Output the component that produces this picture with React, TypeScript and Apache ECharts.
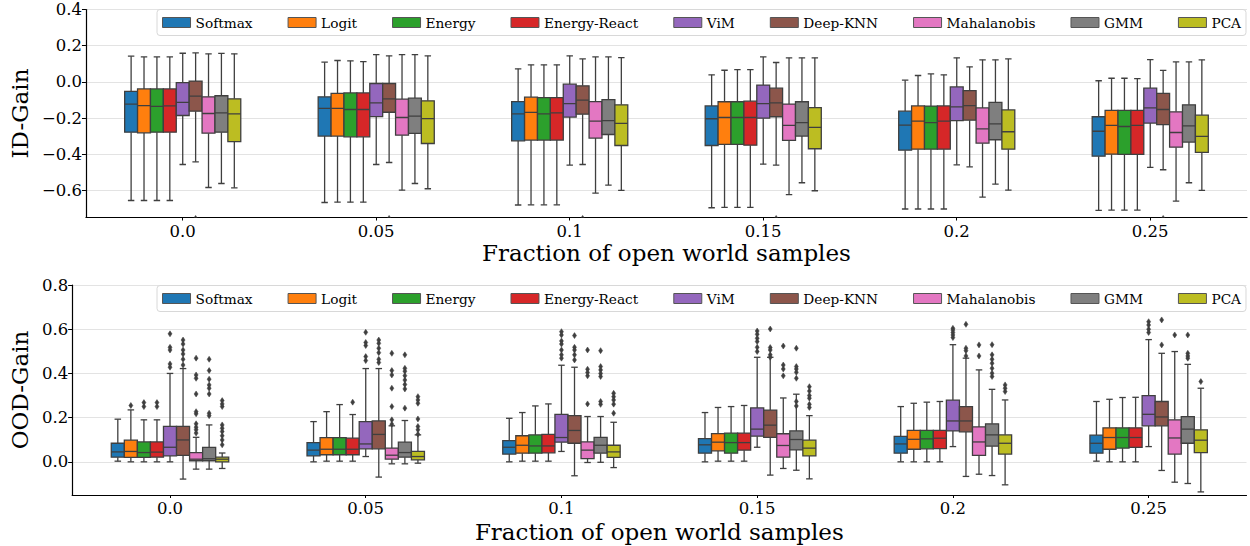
import React, { useEffect, useRef } from "react";
import * as echarts from "echarts";

const CATEGORIES = ["0.0", "0.05", "0.1", "0.15", "0.2", "0.25"];
const METHODS = ["Softmax", "Logit", "Energy", "Energy-React", "ViM", "Deep-KNN", "Mahalanobis", "GMM", "PCA"];
const COLORS = ["#1f77b4", "#ff7f0e", "#2ca02c", "#d62728", "#9467bd", "#8c564b", "#e377c2", "#7f7f7f", "#bcbd22"];

// ID-Gain: per method, per fraction: [low whisker, q1, median, q3, high whisker]
const ID_SOFTMAX = [[-0.656, -0.278, -0.123, -0.053, 0.142], [-0.667, -0.300, -0.147, -0.083, 0.109], [-0.681, -0.326, -0.177, -0.109, 0.072], [-0.696, -0.352, -0.204, -0.133, 0.039], [-0.703, -0.378, -0.239, -0.162, 0.009], [-0.711, -0.411, -0.273, -0.193, 0.006]];
const ID_LOGIT = [[-0.656, -0.282, -0.131, -0.039, 0.138], [-0.665, -0.300, -0.147, -0.064, 0.118], [-0.680, -0.322, -0.169, -0.085, 0.094], [-0.694, -0.346, -0.197, -0.110, 0.064], [-0.703, -0.372, -0.217, -0.133, 0.035], [-0.709, -0.400, -0.241, -0.158, 0.020]];
const ID_ENERGY = [[-0.656, -0.278, -0.136, -0.039, 0.138], [-0.665, -0.304, -0.153, -0.061, 0.116], [-0.680, -0.322, -0.177, -0.087, 0.094], [-0.694, -0.346, -0.197, -0.110, 0.068], [-0.703, -0.372, -0.225, -0.134, 0.044], [-0.709, -0.401, -0.247, -0.158, 0.020]];
const ID_ENERGY_REACT = [[-0.656, -0.278, -0.133, -0.039, 0.138], [-0.665, -0.304, -0.153, -0.061, 0.112], [-0.680, -0.322, -0.171, -0.087, 0.094], [-0.694, -0.350, -0.197, -0.107, 0.068], [-0.703, -0.372, -0.217, -0.133, 0.039], [-0.709, -0.401, -0.241, -0.158, 0.018]];
const ID_VIM = [[-0.457, -0.186, -0.114, -0.004, 0.158], [-0.457, -0.192, -0.116, -0.009, 0.151], [-0.460, -0.195, -0.120, -0.013, 0.144], [-0.455, -0.201, -0.120, -0.018, 0.138], [-0.459, -0.214, -0.138, -0.028, 0.133], [-0.473, -0.228, -0.144, -0.035, 0.123]];
const ID_DEEP_KNN = [[-0.442, -0.162, -0.079, 0.004, 0.160], [-0.446, -0.168, -0.094, -0.009, 0.144], [-0.457, -0.179, -0.101, -0.022, 0.127], [-0.460, -0.193, -0.116, -0.035, 0.107], [-0.470, -0.212, -0.131, -0.048, 0.083], [-0.486, -0.236, -0.153, -0.064, 0.063]];
const ID_MAHALANOBIS = [[-0.584, -0.284, -0.175, -0.083, 0.155], [-0.599, -0.295, -0.197, -0.096, 0.151], [-0.615, -0.311, -0.217, -0.109, 0.138], [-0.624, -0.324, -0.241, -0.123, 0.133], [-0.637, -0.339, -0.260, -0.144, 0.122], [-0.659, -0.361, -0.280, -0.166, 0.110]];
const ID_GMM = [[-0.562, -0.278, -0.171, -0.077, 0.157], [-0.562, -0.285, -0.190, -0.090, 0.151], [-0.571, -0.291, -0.214, -0.098, 0.138], [-0.558, -0.300, -0.225, -0.110, 0.133], [-0.565, -0.320, -0.232, -0.114, 0.122], [-0.558, -0.333, -0.243, -0.127, 0.110]];
const ID_PCA = [[-0.586, -0.330, -0.177, -0.094, 0.155], [-0.591, -0.341, -0.203, -0.105, 0.144], [-0.600, -0.352, -0.230, -0.127, 0.134], [-0.602, -0.370, -0.252, -0.142, 0.133], [-0.599, -0.372, -0.276, -0.155, 0.127], [-0.600, -0.390, -0.302, -0.184, 0.122]];
// ID-Gain outliers: [fraction index, value]
const ID_OUT_DEEP_KNN = [[0, -0.755], [1, -0.755], [2, -0.755], [3, -0.755], [5, -0.755]];

// OOD-Gain
const OOD_SOFTMAX = [[0.003, 0.021, 0.045, 0.084, 0.193], [0.0, 0.027, 0.053, 0.087, 0.182], [0.0, 0.035, 0.066, 0.096, 0.197], [0.0, 0.039, 0.077, 0.105, 0.223], [0.0, 0.039, 0.081, 0.115, 0.250], [0.003, 0.039, 0.084, 0.121, 0.273]];
const OOD_LOGIT = [[0.0, 0.020, 0.047, 0.098, 0.235], [0.003, 0.032, 0.057, 0.110, 0.227], [0.003, 0.039, 0.075, 0.118, 0.223], [0.003, 0.050, 0.089, 0.128, 0.246], [0.0, 0.057, 0.102, 0.142, 0.265], [0.0, 0.057, 0.110, 0.154, 0.283]];
const OOD_ENERGY = [[0.0, 0.020, 0.042, 0.090, 0.190], [0.003, 0.032, 0.057, 0.110, 0.259], [0.003, 0.039, 0.072, 0.122, 0.253], [0.003, 0.039, 0.087, 0.130, 0.250], [0.0, 0.059, 0.104, 0.142, 0.270], [0.0, 0.062, 0.110, 0.154, 0.291]];
const OOD_ENERGY_REACT = [[0.0, 0.021, 0.044, 0.090, 0.190], [0.003, 0.032, 0.057, 0.107, 0.214], [0.003, 0.041, 0.072, 0.124, 0.262], [0.003, 0.053, 0.087, 0.130, 0.255], [0.0, 0.060, 0.107, 0.142, 0.273], [0.0, 0.065, 0.110, 0.154, 0.292]];
const OOD_VIM = [[0.0, 0.027, 0.066, 0.160, 0.400], [0.024, 0.059, 0.081, 0.182, 0.422], [0.047, 0.089, 0.110, 0.215, 0.437], [0.066, 0.116, 0.148, 0.244, 0.473], [0.069, 0.140, 0.185, 0.279, 0.530], [0.069, 0.163, 0.215, 0.300, 0.553]];
const OOD_DEEP_KNN = [[-0.078, 0.029, 0.099, 0.160, 0.422], [-0.069, 0.059, 0.124, 0.185, 0.422], [-0.063, 0.084, 0.142, 0.209, 0.428], [-0.060, 0.111, 0.166, 0.234, 0.473], [-0.066, 0.136, 0.185, 0.250, 0.469], [-0.039, 0.163, 0.203, 0.273, 0.491]];
const OOD_MAHALANOBIS = [[-0.033, 0.005, 0.012, 0.042, 0.111], [-0.009, 0.012, 0.030, 0.062, 0.163], [-0.003, 0.015, 0.053, 0.090, 0.205], [-0.030, 0.021, 0.074, 0.127, 0.289], [-0.056, 0.029, 0.090, 0.158, 0.416], [-0.092, 0.035, 0.108, 0.190, 0.499]];
const OOD_GMM = [[-0.033, 0.005, 0.014, 0.065, 0.167], [-0.009, 0.021, 0.042, 0.089, 0.187], [-0.002, 0.039, 0.075, 0.111, 0.205], [-0.038, 0.054, 0.101, 0.140, 0.306], [-0.062, 0.071, 0.122, 0.172, 0.328], [-0.098, 0.084, 0.148, 0.205, 0.441]];
const OOD_PCA = [[-0.030, 0.0, 0.012, 0.021, 0.040], [-0.006, 0.009, 0.024, 0.047, 0.122], [-0.026, 0.020, 0.045, 0.075, 0.179], [-0.077, 0.027, 0.062, 0.098, 0.209], [-0.104, 0.035, 0.084, 0.122, 0.280], [-0.136, 0.042, 0.098, 0.145, 0.333]];

const OOD_OUT_SOFTMAX: number[][] = [];
const OOD_OUT_LOGIT = [[0, 0.255]];
const OOD_OUT_ENERGY = [[0, 0.268], [0, 0.250]];
const OOD_OUT_ENERGY_REACT = [[0, 0.268], [0, 0.250], [1, 0.270]];
const OOD_OUT_VIM = [[0, 0.579], [0, 0.518], [0, 0.506], [0, 0.443], [0, 0.428], [1, 0.586], [1, 0.540], [1, 0.526], [1, 0.476], [1, 0.458], [2, 0.589], [2, 0.574], [2, 0.547], [2, 0.533], [2, 0.506], [2, 0.484], [2, 0.469], [3, 0.592], [3, 0.577], [3, 0.559], [3, 0.544], [3, 0.518], [3, 0.499], [4, 0.604], [4, 0.596], [4, 0.585], [4, 0.574], [4, 0.562], [5, 0.634], [5, 0.619], [5, 0.600], [5, 0.585]];
const OOD_OUT_DEEP_KNN = [[0, 0.551], [0, 0.533], [0, 0.506], [0, 0.488], [0, 0.464], [0, 0.438], [1, 0.551], [1, 0.536], [1, 0.514], [1, 0.494], [1, 0.464], [1, 0.449], [2, 0.571], [2, 0.518], [2, 0.506], [2, 0.484], [2, 0.461], [3, 0.601], [3, 0.517], [3, 0.506], [3, 0.484], [3, 0.473], [4, 0.622], [4, 0.514], [4, 0.503], [4, 0.479], [5, 0.642], [5, 0.529]];
const OOD_OUT_MAHALANOBIS = [[0, 0.469], [0, 0.393], [0, 0.378], [0, 0.307], [0, 0.227], [0, 0.217], [0, 0.172], [0, 0.157], [0, 0.145], [0, 0.130], [1, 0.491], [1, 0.413], [1, 0.393], [1, 0.333], [1, 0.250], [1, 0.190], [1, 0.170], [2, 0.506], [2, 0.419], [2, 0.404], [2, 0.389], [2, 0.262], [3, 0.524], [3, 0.438], [3, 0.420], [3, 0.389], [4, 0.529], [4, 0.479], [5, 0.574]];
const OOD_OUT_GMM = [[0, 0.464], [0, 0.413], [0, 0.374], [0, 0.348], [0, 0.333], [0, 0.307], [0, 0.220], [0, 0.209], [1, 0.484], [1, 0.423], [1, 0.410], [1, 0.390], [1, 0.370], [1, 0.350], [1, 0.330], [1, 0.243], [2, 0.503], [2, 0.431], [2, 0.416], [2, 0.400], [2, 0.386], [2, 0.273], [2, 0.260], [3, 0.514], [3, 0.431], [3, 0.420], [3, 0.405], [3, 0.378], [3, 0.273], [3, 0.253], [4, 0.530], [4, 0.484], [4, 0.464], [4, 0.446], [4, 0.423], [4, 0.401], [4, 0.386], [5, 0.574], [5, 0.491], [5, 0.479], [5, 0.469]];
const OOD_OUT_PCA = [[0, 0.277], [0, 0.262], [0, 0.250], [0, 0.167], [0, 0.152], [0, 0.137], [0, 0.118], [0, 0.099], [0, 0.077], [1, 0.295], [1, 0.280], [1, 0.265], [1, 0.194], [1, 0.160], [1, 0.145], [1, 0.125], [2, 0.310], [2, 0.295], [2, 0.280], [2, 0.261], [2, 0.220], [3, 0.340], [3, 0.320], [3, 0.300], [3, 0.288], [3, 0.260], [3, 0.246], [4, 0.348], [4, 0.333], [4, 0.318], [5, 0.363]];

const ID_BOXES = [ID_SOFTMAX, ID_LOGIT, ID_ENERGY, ID_ENERGY_REACT, ID_VIM, ID_DEEP_KNN, ID_MAHALANOBIS, ID_GMM, ID_PCA];
const ID_OUTLIERS: number[][][] = [[], [], [], [], [], ID_OUT_DEEP_KNN, [], [], []];
const OOD_BOXES = [OOD_SOFTMAX, OOD_LOGIT, OOD_ENERGY, OOD_ENERGY_REACT, OOD_VIM, OOD_DEEP_KNN, OOD_MAHALANOBIS, OOD_GMM, OOD_PCA];
const OOD_OUTLIERS = [OOD_OUT_SOFTMAX, OOD_OUT_LOGIT, OOD_OUT_ENERGY, OOD_OUT_ENERGY_REACT, OOD_OUT_VIM, OOD_OUT_DEEP_KNN, OOD_OUT_MAHALANOBIS, OOD_OUT_GMM, OOD_OUT_PCA];

const FONT = "DejaVu Serif";
const EDGE = "#3f3f3f";
const GROUP_WIDTH = 0.6;

function offsetX(api: any, cat: number, j: number) {
  const band = api.size([1, 0])[0];
  const bw = (band * GROUP_WIDTH) / METHODS.length;
  const cx = api.coord([cat, 0])[0] + (j - (METHODS.length - 1) / 2) * bw;
  return { cx, bw };
}

function boxRenderer(j: number) {
  return (params: any, api: any) => {
    const cat = api.value(0);
    const { cx, bw } = offsetX(api, cat, j);
    const yLow = api.coord([cat, api.value(1)])[1];
    const yQ1 = api.coord([cat, api.value(2)])[1];
    const yMed = api.coord([cat, api.value(3)])[1];
    const yQ3 = api.coord([cat, api.value(4)])[1];
    const yHigh = api.coord([cat, api.value(5)])[1];
    const color = api.visual("color");
    const ls = { stroke: EDGE, lineWidth: 1.3 };
    const cap = bw / 4;
    return {
      type: "group",
      children: [
        { type: "line", shape: { x1: cx, y1: yQ3, x2: cx, y2: yHigh }, style: ls },
        { type: "line", shape: { x1: cx, y1: yQ1, x2: cx, y2: yLow }, style: ls },
        { type: "line", shape: { x1: cx - cap, y1: yHigh, x2: cx + cap, y2: yHigh }, style: ls },
        { type: "line", shape: { x1: cx - cap, y1: yLow, x2: cx + cap, y2: yLow }, style: ls },
        { type: "rect", shape: { x: cx - bw / 2, y: yQ3, width: bw, height: yQ1 - yQ3 }, style: { fill: color, stroke: EDGE, lineWidth: 1.3 } },
        { type: "line", shape: { x1: cx - bw / 2, y1: yMed, x2: cx + bw / 2, y2: yMed }, style: ls },
      ],
    };
  };
}

function outlierRenderer(j: number) {
  return (params: any, api: any) => {
    const cat = api.value(0);
    const { cx } = offsetX(api, cat, j);
    const y = api.coord([cat, api.value(1)])[1];
    return {
      type: "polygon",
      shape: { points: [[cx, y - 3], [cx + 2, y], [cx, y + 3], [cx - 2, y]] },
      style: { fill: EDGE, stroke: EDGE, lineWidth: 0.5 },
    };
  };
}

function fmt(v: number) {
  if (Math.abs(v * 5 - Math.round(v * 5)) > 1e-6) return "";
  const s = v.toFixed(1);
  return s.startsWith("-") ? "\u2212" + s.slice(1) : s;
}

function buildSeries(boxes: number[][][], outliers: number[][][], axisIndex: number) {
  const out: any[] = [];
  METHODS.forEach((m, j) => {
    out.push({
      type: "custom",
      name: m,
      xAxisIndex: axisIndex,
      yAxisIndex: axisIndex,
      clip: true,
      itemStyle: { color: COLORS[j] },
      renderItem: boxRenderer(j),
      encode: { x: 0, y: [1, 2, 3, 4, 5] },
      data: boxes[j].map((b, i) => [i, ...b]),
      z: 3,
    });
    out.push({
      type: "custom",
      name: m,
      xAxisIndex: axisIndex,
      yAxisIndex: axisIndex,
      clip: true,
      itemStyle: { color: COLORS[j] },
      renderItem: outlierRenderer(j),
      encode: { x: 0, y: 1 },
      data: outliers[j],
      z: 4,
    });
  });
  return out;
}

function legend(top: number) {
  return {
    right: 4,
    top,
    itemWidth: 28,
    itemHeight: 10,
    itemGap: 35,
    padding: [6, 5, 6, 5],
    borderColor: "#d8d8d8",
    borderWidth: 1,
    borderRadius: 3,
    backgroundColor: "rgba(255,255,255,0.85)",
    icon: "rect",
    textStyle: { fontFamily: FONT, fontSize: 13.7, color: "#000" },
    data: METHODS.map((m, j) => ({ name: m, itemStyle: { color: COLORS[j], borderColor: "#555", borderWidth: 1 } })),
  };
}

function xAxis(gridIndex: number, nameGap: number) {
  return {
    type: "category",
    gridIndex,
    data: CATEGORIES,
    name: "Fraction of open world samples",
    nameLocation: "middle",
    nameGap,
    nameTextStyle: { fontFamily: FONT, fontSize: 23, color: "#000" },
    axisLine: { onZero: false, lineStyle: { color: "#000", width: 1.2 } },
    axisTick: { show: true, alignWithLabel: true, length: 3, lineStyle: { color: "#000" } },
    axisLabel: { fontFamily: FONT, fontSize: 16.5, color: "#000", margin: 5 },
    splitLine: { show: false },
  };
}

function yAxis(gridIndex: number, name: string, min: number, max: number, nameGap: number) {
  return {
    type: "value",
    gridIndex,
    min,
    max,
    splitNumber: 5,
    name,
    nameLocation: "middle",
    nameGap,
    nameTextStyle: { fontFamily: FONT, fontSize: 23, color: "#000" },
    axisLine: { show: true, onZero: false, lineStyle: { color: "#000", width: 1.2 } },
    axisTick: { show: true, length: 4, lineStyle: { color: "#000" } },
    axisLabel: { fontFamily: FONT, fontSize: 16.5, color: "#000", margin: 4, formatter: fmt, showMinLabel: false },
    splitLine: { show: true, lineStyle: { color: "#e3e3e3", width: 1 } },
  };
}

export default function App() {
  const ref = useRef<HTMLDivElement>(null);
  useEffect(() => {
    if (!ref.current) return;
    const chart = echarts.init(ref.current, null, { renderer: "svg" });
    chart.setOption({
      animation: false,
      backgroundColor: "#fff",
      grid: [
        { left: 82, top: 9.5, width: 1165, height: 208 },
        { left: 68.5, top: 285, width: 1178, height: 210 },
      ],
      legend: [legend(9.5), legend(285.5)],
      xAxis: [xAxis(0, 24), xAxis(1, 25)],
      yAxis: [yAxis(0, "ID-Gain", -0.75, 0.4, 50), yAxis(1, "OOD-Gain", -0.15, 0.8, 37)],
      series: [...buildSeries(ID_BOXES, ID_OUTLIERS, 0), ...buildSeries(OOD_BOXES, OOD_OUTLIERS, 1)],
    });
    return () => chart.dispose();
  }, []);
  return <div ref={ref} style={{ position: "absolute", left: 0, top: 0, width: 1250, height: 546 }} />;
}
